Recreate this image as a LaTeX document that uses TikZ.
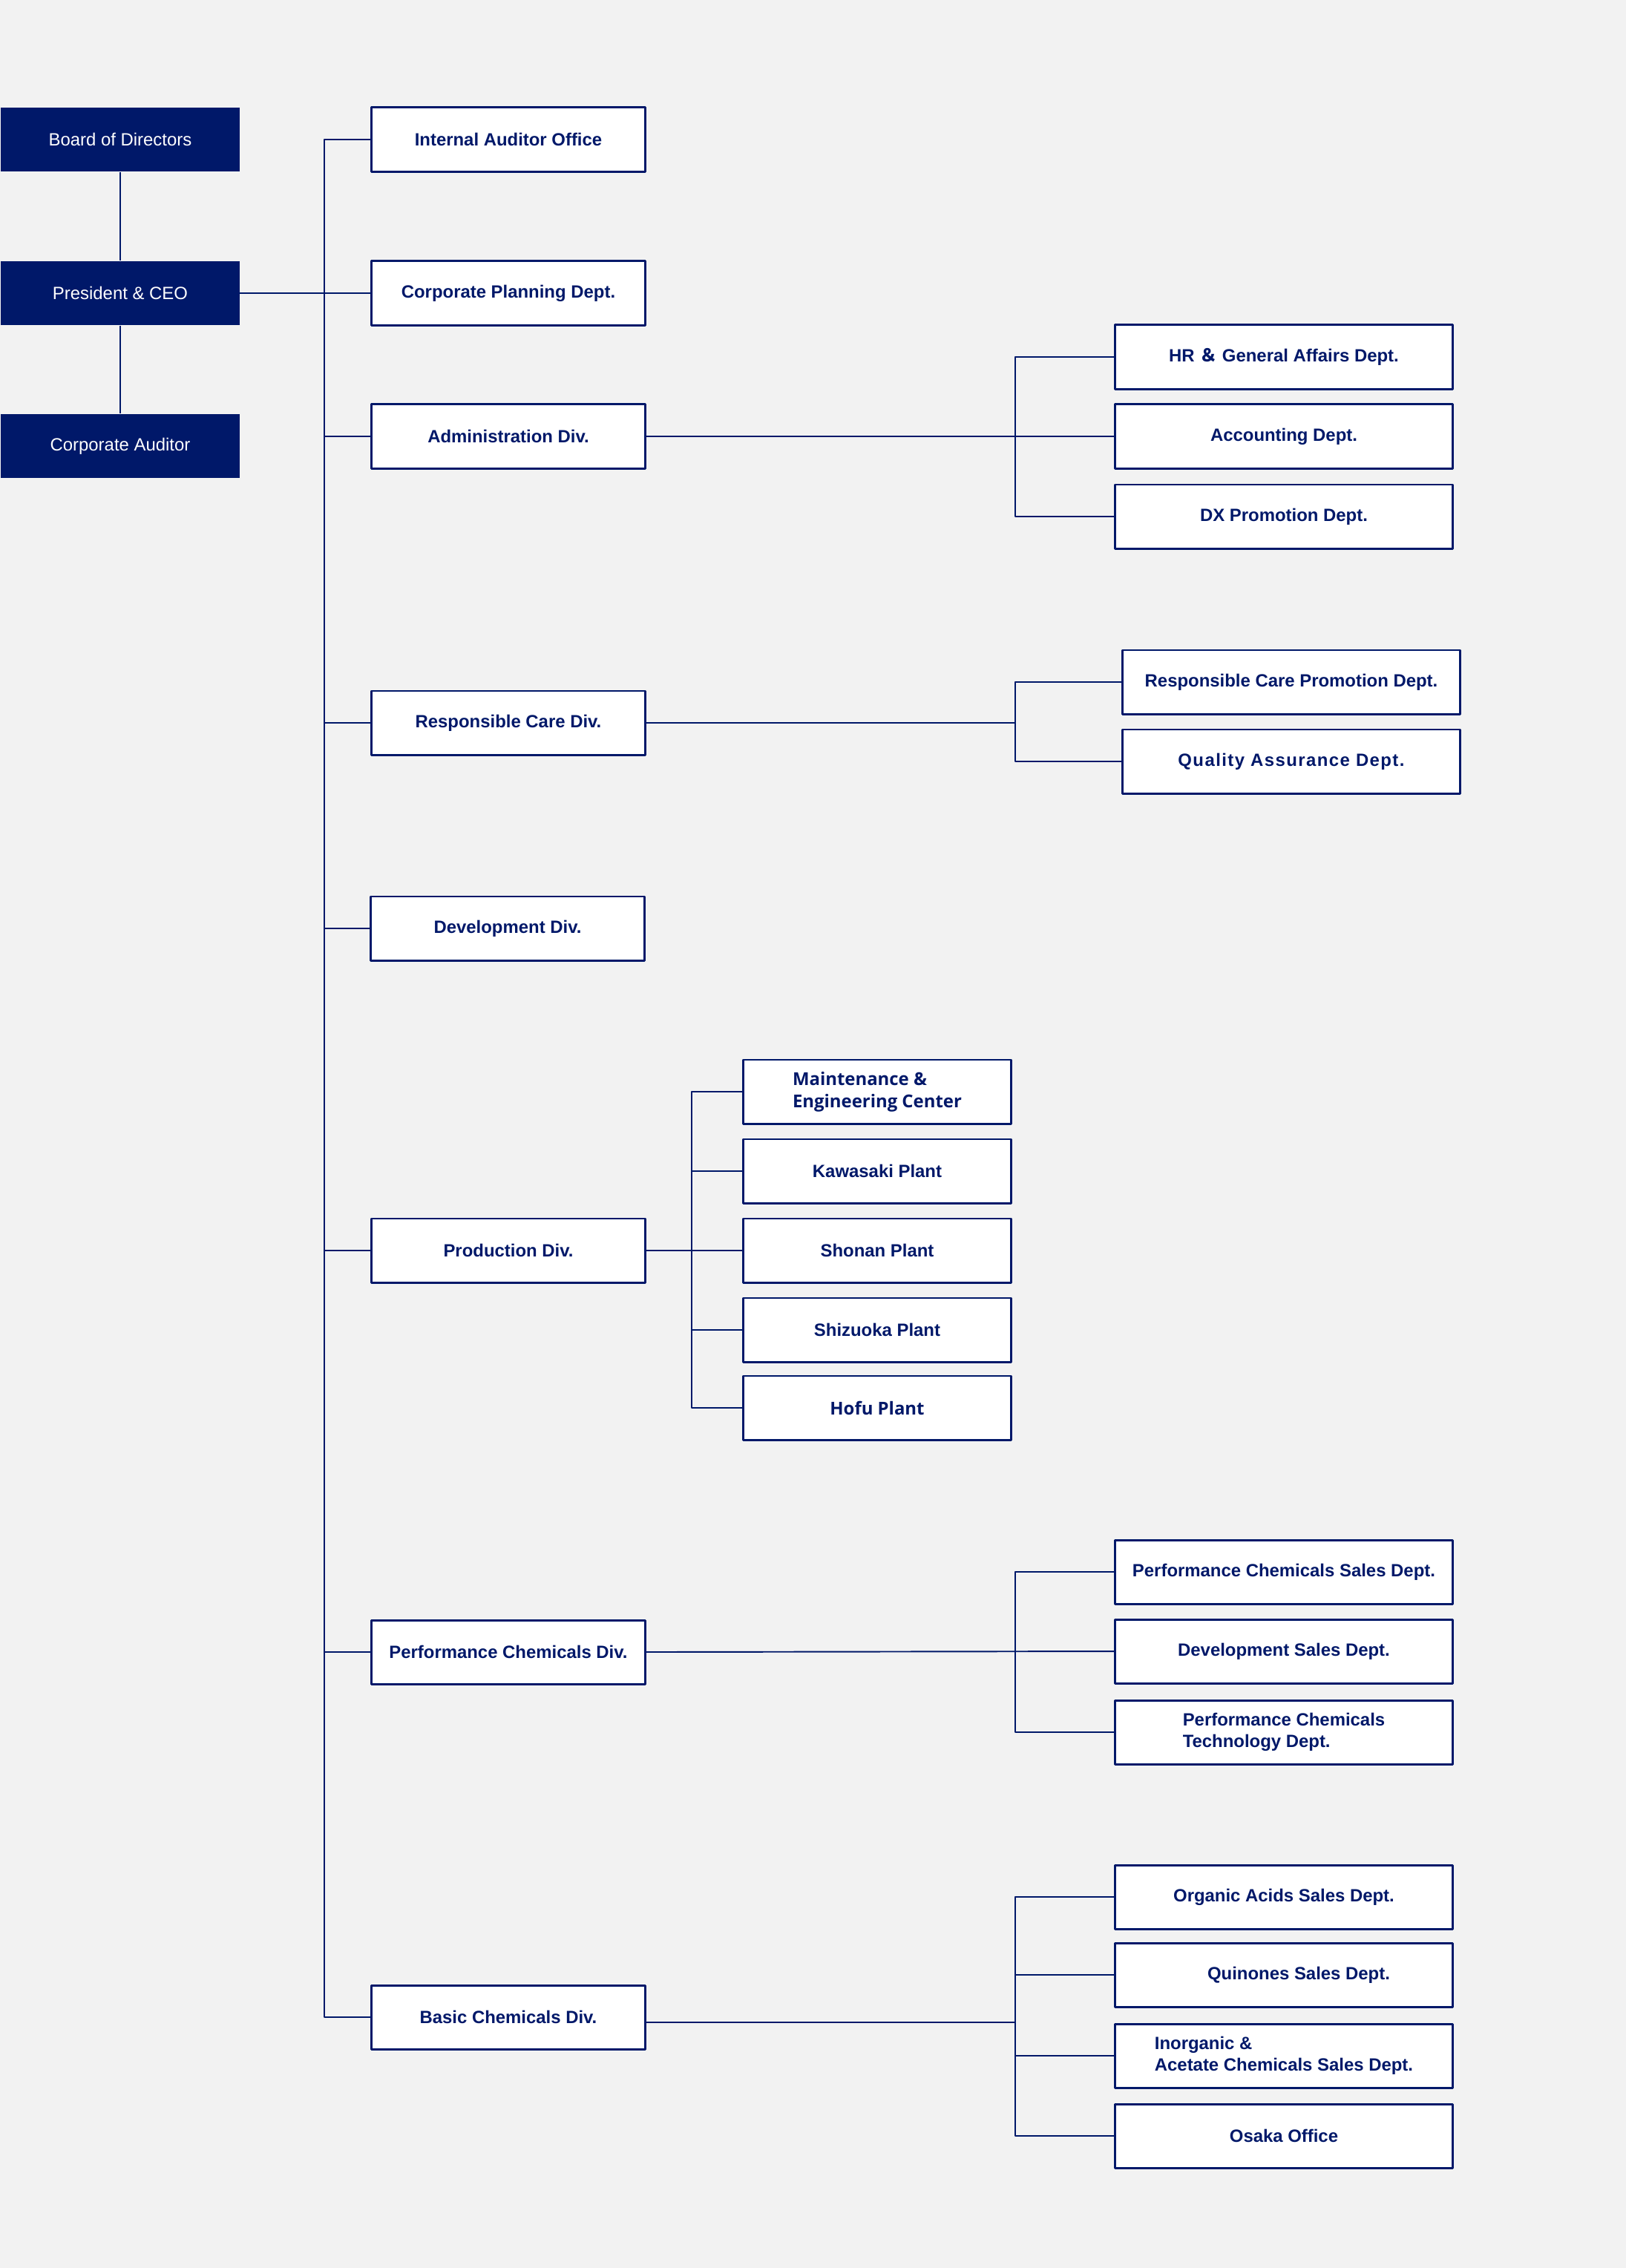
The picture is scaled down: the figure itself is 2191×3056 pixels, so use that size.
\documentclass[tikz,border=0pt]{standalone}
\usepackage{fontspec}
\setmainfont{Liberation Sans}
\newfontfamily\notosans{Open Sans}
\newfontfamily\cjk{Noto Sans CJK JP}
\definecolor{navy}{RGB}{0,24,105}
\definecolor{paper}{RGB}{242,242,242}
\begin{document}
\begin{tikzpicture}[x=0.01cm, y=-0.01cm, line join=round,
    font=\fontsize{6.8}{8.4}\selectfont,
    topbox/.style={fill=navy, text=white, minimum width=3.21cm, minimum height=0.86cm, inner sep=0pt},
    unitbox/.style={draw=navy, line width=0.85pt, fill=white, text=navy, font=\fontsize{6.8}{8.4}\selectfont\bfseries,
        minimum width=3.68cm, minimum height=0.86cm, inner sep=0pt, align=left},
    deptbox/.style={unitbox, minimum width=4.54cm},
    plantbox/.style={unitbox, minimum width=3.6cm},
    link/.style={draw=navy, line width=0.55pt}]
    % page
    \fill[paper] (0,0) rectangle (2191,3056);
    \coordinate (trunk) at (437,0);
    \coordinate (branch) at (1368,0);
    \coordinate (plantbranch) at (932,0);
    % top management
    \node[topbox] (board) at (162,188) {Board of Directors};
    \node[topbox] (ceo) at (162,395) {President \& CEO};
    \node[topbox] (auditor) at (162,601) {Corporate Auditor};
    % divisions
    \node[unitbox] (internal) at (685,188) {Internal Auditor Office};
    \node[unitbox] (planning) at (685,395) {Corporate Planning Dept.};
    \node[unitbox] (admin) at (685,588) {Administration Div.};
    \node[unitbox] (care) at (685,974) {Responsible Care Div.};
    \node[unitbox] (devdiv) at (684,1251) {Development Div.};
    \node[unitbox] (prod) at (685,1685) {Production Div.};
    \node[unitbox] (perf) at (685,2226) {Performance Chemicals Div.};
    \node[unitbox] (basic) at (685,2718) {Basic Chemicals Div.};
    % administration
    \node[deptbox] (hr) at (1730,481) {HR {\cjk ＆} General Affairs Dept.};
    \node[deptbox] (acc) at (1730,588) {Accounting Dept.};
    \node[deptbox] (dx) at (1730,696) {DX Promotion Dept.};
    % responsible care
    \node[deptbox] (rcp) at (1740,919) {Responsible Care Promotion Dept.};
    \node[deptbox] (qa) at (1740,1026) {\addfontfeature{LetterSpace=6}Quality Assurance Dept.};
    % production
    \node[plantbox, font=\fontsize{6.8}{8.6}\selectfont\notosans\bfseries] (mec) at (1182,1471) {Maintenance \&\\Engineering Center};
    \node[plantbox] (kawasaki) at (1182,1578) {Kawasaki Plant};
    \node[plantbox] (shonan) at (1182,1685) {Shonan Plant};
    \node[plantbox] (shizuoka) at (1182,1792) {Shizuoka Plant};
    \node[plantbox, font=\fontsize{6.8}{8.4}\selectfont\notosans\bfseries] (hofu) at (1182,1897) {Hofu Plant};
    % performance chemicals
    \node[deptbox] (pcs) at (1730,2118) {Performance Chemicals Sales Dept.};
    \node[deptbox] (dsales) at (1730,2225) {Development Sales Dept.};
    \node[deptbox] (pct) at (1730,2334) {Performance Chemicals\\Technology Dept.};
    % basic chemicals
    \node[deptbox] (organic) at (1730,2556) {Organic Acids Sales Dept.};
    \node[deptbox] (quinone) at (1730,2661) {\hspace{0.4cm}Quinones Sales Dept.};
    \node[deptbox] (inorganic) at (1730,2770) {Inorganic \&\\Acetate Chemicals Sales Dept.};
    \node[deptbox] (osaka) at (1730,2878) {Osaka Office};
    % connectors
    \draw[link] (board) -- (ceo) -- (auditor);
    \draw[link] (ceo.east) -- (planning.west);
    \draw[link] (internal.west) -- (internal.west -| trunk) -- (basic.west -| trunk) -- (basic.west);
    \foreach \n in {admin, care, devdiv, prod, perf}
        \draw[link] (\n.west) -- (\n.west -| trunk);
    \draw[link] (admin.east) -- (acc.west);
    \draw[link] (hr.west) -- (hr.west -| branch) -- (dx.west -| branch) -- (dx.west);
    \draw[link] (care.east) -- (care.east -| branch);
    \draw[link] (rcp.west) -- (rcp.west -| branch) -- (qa.west -| branch) -- (qa.west);
    \draw[link] (prod.east) -- (shonan.west);
    \draw[link] (mec.west) -- (mec.west -| plantbranch) -- (hofu.west -| plantbranch) -- (hofu.west);
    \foreach \n in {kawasaki, shizuoka}
        \draw[link] (\n.west) -- (\n.west -| plantbranch);
    \draw[link] (perf.east) -- (dsales.west);
    \draw[link] (pcs.west) -- (pcs.west -| branch) -- (pct.west -| branch) -- (pct.west);
    \draw[link] ([yshift=-0.07cm]basic.east) -- ([yshift=-0.07cm]basic.east -| branch);
    \draw[link] (organic.west) -- (organic.west -| branch) -- (osaka.west -| branch) -- (osaka.west);
    \foreach \n in {quinone, inorganic}
        \draw[link] (\n.west) -- (\n.west -| branch);
\end{tikzpicture}
\end{document}
